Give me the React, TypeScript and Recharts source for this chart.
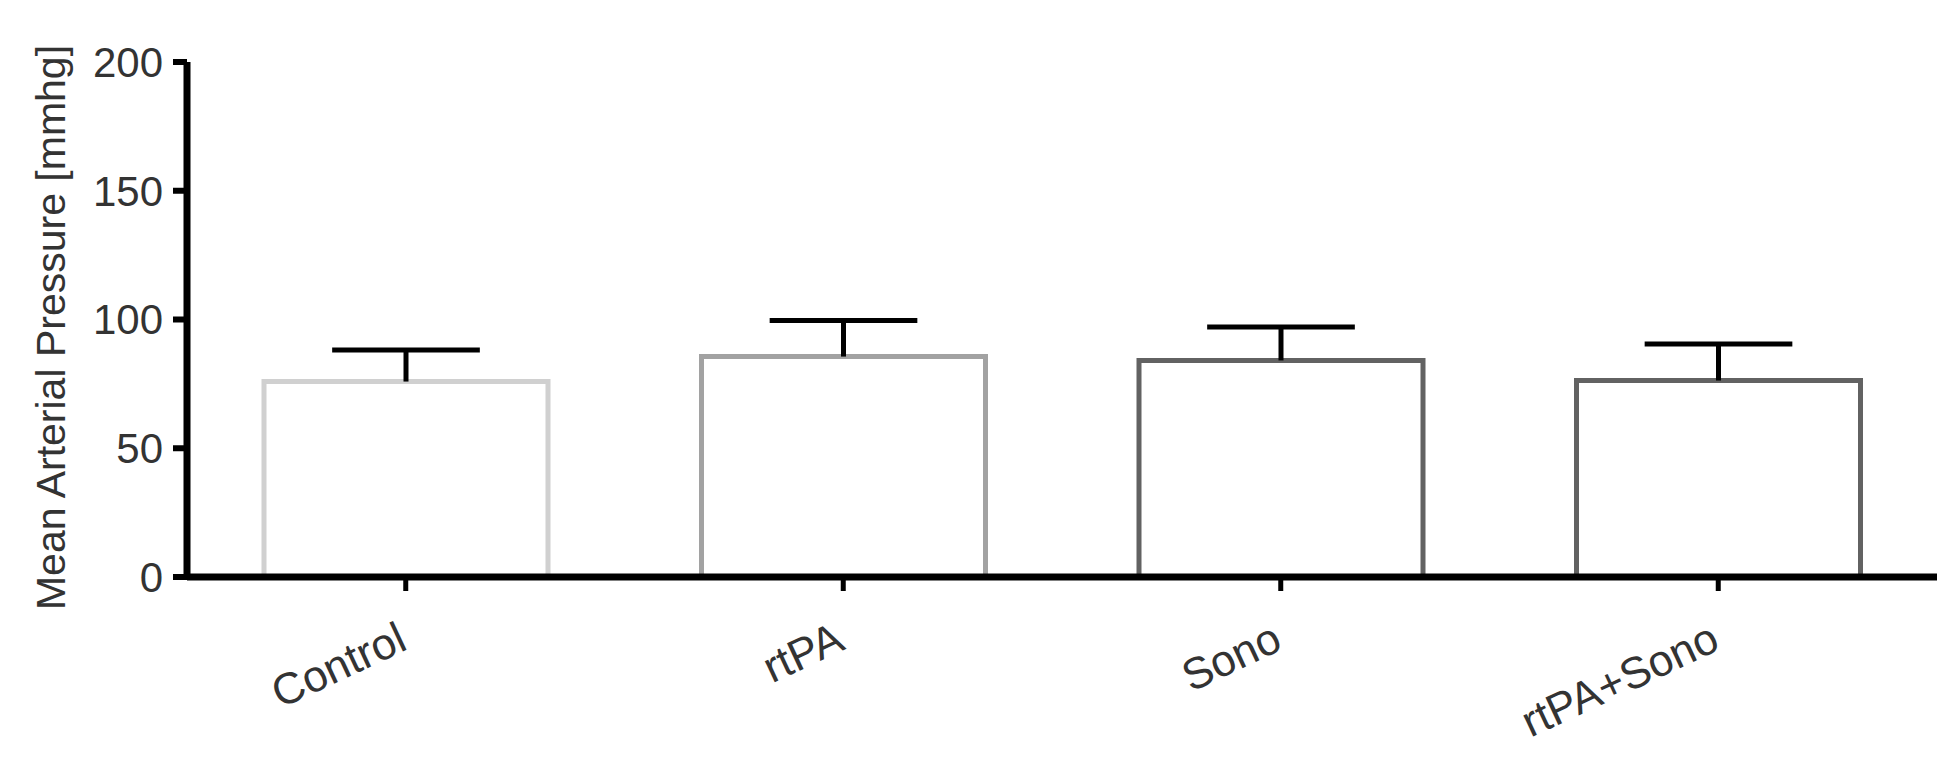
import React from 'react'
import { BarChart, Bar, XAxis, YAxis, Cell, Label } from 'recharts'

// Werte (Mittelwert + SEM, nur nach oben)
const groups = ['Control', 'rtPA', 'Sono', 'rtPA+Sono']
const means = [75.9, 85.6, 84.1, 76.3]
const sems = [12.3, 14.0, 13.0, 14.2]
const yTicks = [0, 50, 100, 150, 200]
const strokes = ['#d0d0d0', '#a2a2a2', '#626262', '#626262']

const FONT = '"Liberation Sans", Arial, Helvetica, sans-serif'
const TEXT = '#333'

const data = groups.map((g, i) => ({ group: g, mean: means[i], sem: sems[i] }))

// offener Balken: links, oben, rechts – unten liegt die Achse
const OpenBar = (props: any) => {
  const { x, y, width, height, stroke } = props
  return (
    <g>
      <rect x={x} y={y} width={width} height={height} fill="#fff" />
      <path
        d={`M${x},${y + height} L${x},${y} L${x + width},${y} L${x + width},${y + height}`}
        stroke={stroke}
        strokeWidth={5}
        fill="none"
      />
    </g>
  )
}

// Fehlerbalken als gestapeltes Segment über dem Mittelwert
const ErrorT = (props: any) => {
  const { x, y, width, height } = props
  const cx = x + width / 2
  const half = width * 0.26
  return (
    <g stroke="#000" strokeWidth={5} fill="none">
      <line x1={cx} y1={y + height} x2={cx} y2={y} />
      <line x1={cx - half} y1={y} x2={cx + half} y2={y} />
    </g>
  )
}

const AngledTick = (props: any) => {
  const { x, y, payload } = props
  return (
    <g transform={`translate(${x - 10},${y})`}>
      <text
        textAnchor="end"
        dy="0.72em"
        transform="rotate(-25)"
        fill={TEXT}
        fontSize={44}
        fontFamily={FONT}
      >
        {payload.value}
      </text>
    </g>
  )
}

const YTitle = (props: any) => {
  const vb = props.viewBox
  const cy = vb ? vb.y + vb.height / 2 + 8 : 328
  const bx = vb ? vb.x + 65 : 65
  return (
    <text
      transform={`translate(${bx},${cy}) rotate(-90)`}
      textAnchor="middle"
      fill={TEXT}
      fontSize={41}
      fontFamily={FONT}
    >
      Mean Arterial Pressure [mmhg]
    </text>
  )
}

export default function App() {
  return (
    <div style={{ position: 'absolute', left: 0, top: 0, width: 1960, height: 768, background: '#fff' }}>
      <BarChart
        width={1960}
        height={768}
        data={data}
        margin={{ top: 62, right: 23, bottom: 0, left: 0 }}
        barSize={284}
      >
        <XAxis
          dataKey="group"
          height={191}
          interval={0}
          axisLine={{ stroke: '#000', strokeWidth: 7 }}
          tickLine={{ stroke: '#000', strokeWidth: 5 }}
          tickSize={14}
          tickMargin={29}
          tick={<AngledTick />}
        />
        <YAxis
          width={187}
          domain={[0, 200]}
          ticks={yTicks}
          interval={0}
          axisLine={{ stroke: '#000', strokeWidth: 7 }}
          tickLine={{ stroke: '#000', strokeWidth: 6 }}
          tickSize={14}
          tickMargin={10}
          tick={{ fill: TEXT, fontSize: 42, fontFamily: FONT }}
        >
          <Label content={YTitle} />
        </YAxis>
        <Bar dataKey="mean" stackId="a" shape={<OpenBar />} isAnimationActive={false}>
          {data.map((d, i) => (
            <Cell key={d.group} stroke={strokes[i]} />
          ))}
        </Bar>
        <Bar dataKey="sem" stackId="a" shape={<ErrorT />} isAnimationActive={false} />
      </BarChart>
    </div>
  )
}
